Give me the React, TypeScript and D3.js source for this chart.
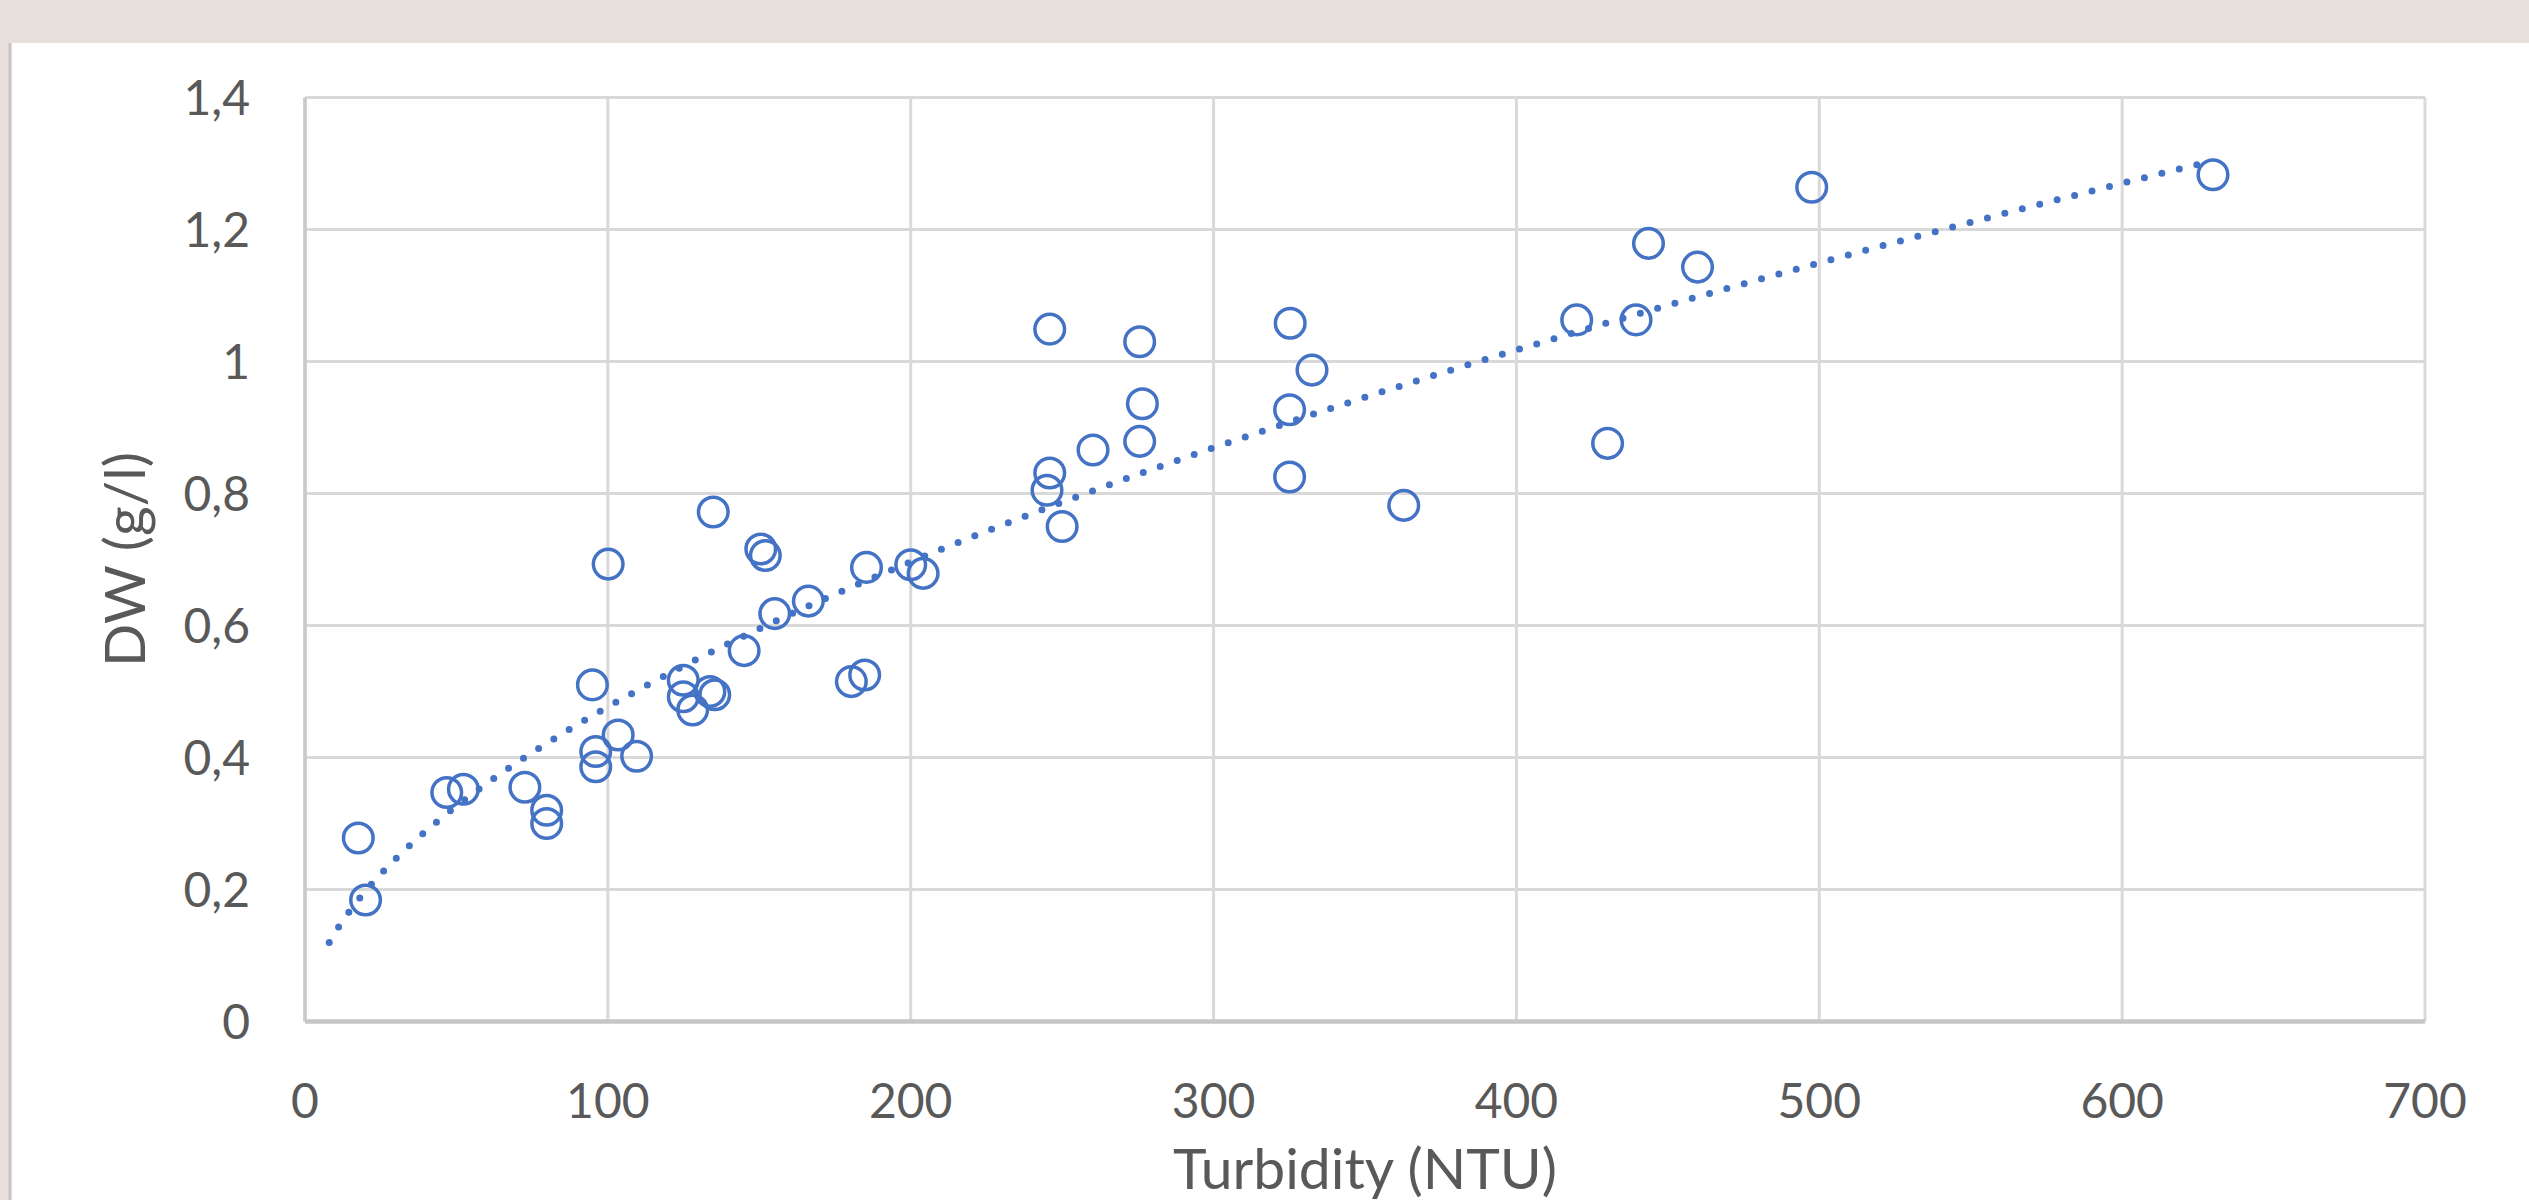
import * as d3 from "d3";

// Turbidity (NTU) vs dry weight (g/l)
const TURBIDITY = [
  17.6, 20.0, 46.8, 52.3, 72.6, 79.8, 79.8, 94.9, 100.1, 96.0, 96.0, 103.4, 109.5,
  124.9, 124.9, 128.0, 133.7, 135.3, 134.8, 145.0, 150.5, 152.0, 155.1, 166.2,
  180.4, 184.8, 185.4, 200.0, 204.1, 245.9, 245.0, 250.0, 260.2, 275.6, 276.5,
  245.9, 275.6, 325.3, 332.5, 325.1, 325.1, 362.8, 419.9, 439.5, 430.1, 443.6,
  459.8, 497.5, 630.0,
];
const DW = [
  0.278, 0.184, 0.347, 0.352, 0.355, 0.32, 0.3, 0.51, 0.693, 0.409, 0.386, 0.434, 0.402,
  0.517, 0.492, 0.472, 0.5, 0.495, 0.772, 0.562, 0.716, 0.706, 0.618, 0.637,
  0.515, 0.525, 0.688, 0.692, 0.679, 0.831, 0.805, 0.75, 0.866, 0.879, 0.936,
  1.049, 1.03, 1.058, 0.987, 0.927, 0.825, 0.782, 1.063, 1.063, 0.876, 1.179,
  1.143, 1.264, 1.283,
];

const X_TICKS = [0, 100, 200, 300, 400, 500, 600, 700];
const Y_TICKS = [0, 0.2, 0.4, 0.6, 0.8, 1, 1.2, 1.4];
const Y_TICK_LABELS = ["0", "0,2", "0,4", "0,6", "0,8", "1", "1,2", "1,4"];
const X_TITLE = "Turbidity (NTU)";
const Y_TITLE = "DW (g/l)";
const TREND_FROM = 8; // backward forecast of the power trendline

const W = 2529;
const H = 1200;
const M = { left: 305, right: 104, top: 97.5, bottom: 178.5 };
const BLUE = "#4472C4";
const TEXT = "#595959";
const GRID = "#d9d9d9";
const FONT = "Lato, 'Open Sans', sans-serif";

// Excel "power" trendline: least squares on ln(x), ln(y)
function powerFit(xs: number[], ys: number[]) {
  const lx = xs.map(Math.log);
  const ly = ys.map(Math.log);
  const mx = d3.mean(lx)!;
  const my = d3.mean(ly)!;
  const sxy = d3.sum(lx, (v, i) => (v - mx) * (ly[i] - my));
  const sxx = d3.sum(lx, (v) => (v - mx) ** 2);
  const b = sxy / sxx;
  const a = Math.exp(my - b * mx);
  return (x: number) => a * Math.pow(x, b);
}

export default function App() {
  const x = d3.scaleLinear().domain([0, 700]).range([M.left, W - M.right]);
  const y = d3.scaleLinear().domain([0, 1.4]).range([H - M.bottom, M.top]);

  const fit = powerFit(TURBIDITY, DW);
  const xMax = d3.max(TURBIDITY)!;
  const trendX = d3.range(TREND_FROM, xMax, 2).concat([xMax]);
  const trend = d3
    .line<number>()
    .x((d) => x(d))
    .y((d) => y(fit(d)))(trendX) ?? "";

  const [x0, x1] = x.range();
  const [y0, y1] = y.range();

  return (
    <>
      <style>{"body{margin:0}"}</style>
      <svg width={W} height={H} style={{ display: "block" }}>
        <rect width={W} height={H} fill="#e7dfdc" />
        <rect x={11.5} y={43} width={W - 11.5} height={H - 43} fill="#fff" />
        <line x1={10} x2={10} y1={43} y2={H} stroke="#cbc4c2" strokeWidth={3} />

        {/* gridlines */}
        {X_TICKS.map((t) => (
          <line key={`gx${t}`} x1={x(t)} x2={x(t)} y1={y1} y2={y0} stroke={GRID} strokeWidth={3} />
        ))}
        {Y_TICKS.map((t) => (
          <line key={`gy${t}`} x1={x0} x2={x1} y1={y(t)} y2={y(t)} stroke={GRID} strokeWidth={3} />
        ))}
        <line x1={x0} x2={x0} y1={y1} y2={y0} stroke="#c9c9c9" strokeWidth={3.5} />
        <line x1={x0} x2={x1} y1={y0} y2={y0} stroke="#c6c6c6" strokeWidth={4.5} />

        {/* tick labels */}
        {Y_TICKS.map((t, i) => (
          <text
            key={`ly${t}`}
            x={x0 - 55}
            y={y(t) + 17}
            textAnchor="end"
            fill={TEXT}
            style={{ fontSize: 48, fontFamily: FONT }}
          >
            {Y_TICK_LABELS[i]}
          </text>
        ))}
        {X_TICKS.map((t) => (
          <text
            key={`lx${t}`}
            x={x(t)}
            y={y0 + 96}
            textAnchor="middle"
            fill={TEXT}
            style={{ fontSize: 48, fontFamily: FONT }}
          >
            {t}
          </text>
        ))}

        {/* axis titles */}
        <text
          transform={`translate(145, ${(y0 + y1) / 2}) rotate(-90)`}
          textAnchor="middle"
          fill={TEXT}
          style={{ fontSize: 57, fontFamily: FONT }}
        >
          {Y_TITLE}
        </text>
        <text
          x={(x0 + x1) / 2}
          y={y0 + 167}
          textAnchor="middle"
          fill={TEXT}
          style={{ fontSize: 57, fontFamily: FONT }}
        >
          {X_TITLE}
        </text>

        {/* points */}
        {TURBIDITY.map((t, i) => (
          <circle key={i} cx={x(t)} cy={y(DW[i])} r={14.8} fill="none" stroke={BLUE} strokeWidth={3.5} />
        ))}

        {/* power trendline, round dots */}
        <path
          d={trend}
          fill="none"
          stroke={BLUE}
          strokeWidth={7}
          strokeLinecap="round"
          strokeDasharray="0 18"
        />
      </svg>
    </>
  );
}
